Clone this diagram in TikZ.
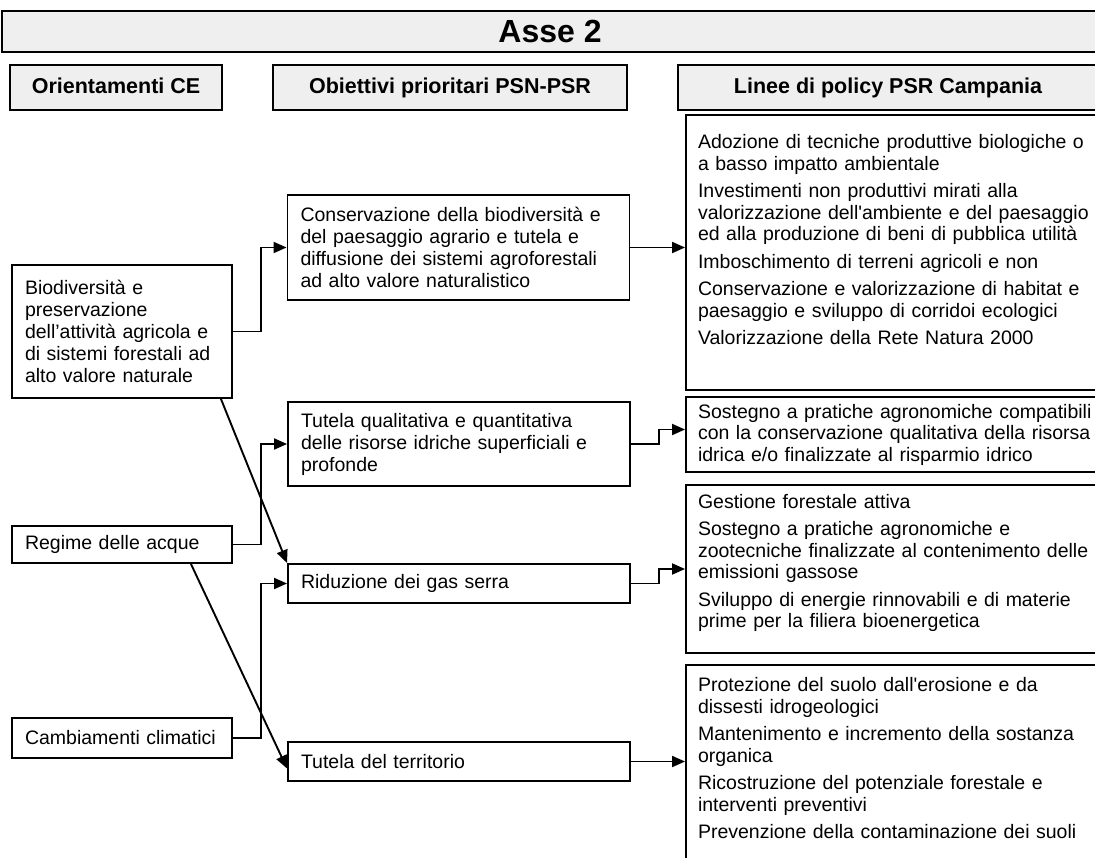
\documentclass[tikz,border=0pt]{standalone}
\usepackage{fontspec}
\setmainfont{Liberation Sans}
\usetikzlibrary{arrows.meta}
\definecolor{boxgray}{HTML}{EFEFEF}

\begin{document}
\begin{tikzpicture}[x=1pt, y=-1pt,
    titlebox/.style={draw, line width=1.8pt, fill=boxgray, text height=22, text depth=1, font=\bfseries\fontsize{32}{36}\selectfont},
    headbox/.style={draw, line width=2.8pt, fill=boxgray, minimum height=45, text height=16, text depth=4, font=\bfseries\fontsize{21.5}{25}\selectfont},
    txtbox/.style={draw, line width=1.9pt, align=left, inner xsep=13pt, font=\fontsize{19.5}{22}\selectfont},
    polbox/.style={draw, line width=1.9pt, align=left, inner xsep=12pt, text width=406, font=\fontsize{19.5}{21.5}\selectfont},
    conn/.style={line width=1.9pt, -{Triangle[length=13pt,width=11pt]}}]
            \useasboundingbox (0,0) rectangle (1095,857);

            \node[titlebox, minimum width=1096, minimum height=41] (asse) at (550,31.5) {Asse 2};
            \node[headbox, minimum width=212] (hori) at (116,87.5)  {Orientamenti CE};
            \node[headbox, minimum width=354] (hobi) at (450,87.5)  {Obiettivi prioritari PSN-PSR};
            \node[headbox, minimum width=420] (hlin) at (888,87.5)  {Linee di policy PSR Campania};

            \node[txtbox, text width=194, minimum height=133] (bio) at (122,331.5)
                {Biodiversità e\\ preservazione\\ dell’attività agricola e\\ di sistemi forestali ad\\ alto valore naturale};
            \node[txtbox, text width=194, minimum height=37] (reg) at (122,544.5) {Regime delle acque};
            \node[txtbox, text width=194, minimum height=40] (cam) at (122,738)   {Cambiamenti climatici};

            \node[txtbox, text width=316, minimum height=105] (cons) at (458.5,247.5)
                {Conservazione della biodiversità e\\ del paesaggio agrario e tutela e\\ diffusione dei sistemi agroforestali\\ ad alto valore naturalistico};
            \node[txtbox, text width=316, minimum height=84] (tqual) at (459,444)
                {Tutela qualitativa e quantitativa\\ delle risorse idriche superficiali e\\ profonde};
            \node[txtbox, text width=316, minimum height=39] (rid)  at (459,583.5) {Riduzione dei gas serra};
            \node[txtbox, text width=316, minimum height=39] (tter) at (459,761.5) {Tutela del territorio};

            \node[polbox, minimum height=275] (polA) at (901,252.5)
                {Adozione di tecniche produttive biologiche o\\ a basso impatto ambientale\\[6pt]
                 Investimenti non produttivi mirati alla\\ valorizzazione dell\textquotesingle ambiente e del paesaggio\\ ed alla produzione di beni di pubblica utilità\\[6pt]
                 Imboschimento di terreni agricoli e non\\[6pt]
                 Conservazione e valorizzazione di habitat e\\ paesaggio e sviluppo di corridoi ecologici\\[6pt]
                 Valorizzazione della Rete Natura 2000\rule[-26pt]{0pt}{26pt}};
            \node[polbox, minimum height=75] (polB) at (901,434.5)
                {Sostegno a pratiche agronomiche compatibili\\ con la conservazione qualitativa della risorsa\\ idrica e/o finalizzate al risparmio idrico};
            \node[polbox, minimum height=168] (polC) at (901,569)
                {Gestione forestale attiva\\[6pt]
                 Sostegno a pratiche agronomiche e\\ zootecniche finalizzate al contenimento delle\\ emissioni gassose\\[6pt]
                 Sviluppo di energie rinnovabili e di materie\\ prime per la filiera bioenergetica\rule[-16pt]{0pt}{16pt}};
            \node[polbox, minimum height=220] (polD) at (901,775)
                {Protezione del suolo dall\textquotesingle erosione e da\\ dissesti idrogeologici\\[6pt]
                 Mantenimento e incremento della sostanza\\ organica\\[6pt]
                 Ricostruzione del potenziale forestale e\\ interventi preventivi\\[6pt]
                 Prevenzione della contaminazione dei suoli\rule[-34pt]{0pt}{34pt}};

            \draw[conn] (bio.east) -- ++(28,0) |- (cons.west);
            \draw[conn] ([xshift=-12pt]bio.south east) -- (rid.north west);
            \draw[conn] (reg.east) -- ++(28,0) |- (tqual.west);
            \draw[conn] ([xshift=-42pt]reg.south east) -- ([yshift=-7pt]tter.west);
            \draw[conn] (cam.east) -- ++(28,0) |- (rid.west);

            \draw[conn] (cons.east) -- (cons.east -| polA.west);
            \draw[conn] (tqual.east) -- ++(28,0) |- ([yshift=5pt]polB.west);
            \draw[conn] (rid.east) -- ++(28,0) |- (polC.west);
            \draw[conn] (tter.east) -- (tter.east -| polD.west);
        \end{tikzpicture}
\end{document}
